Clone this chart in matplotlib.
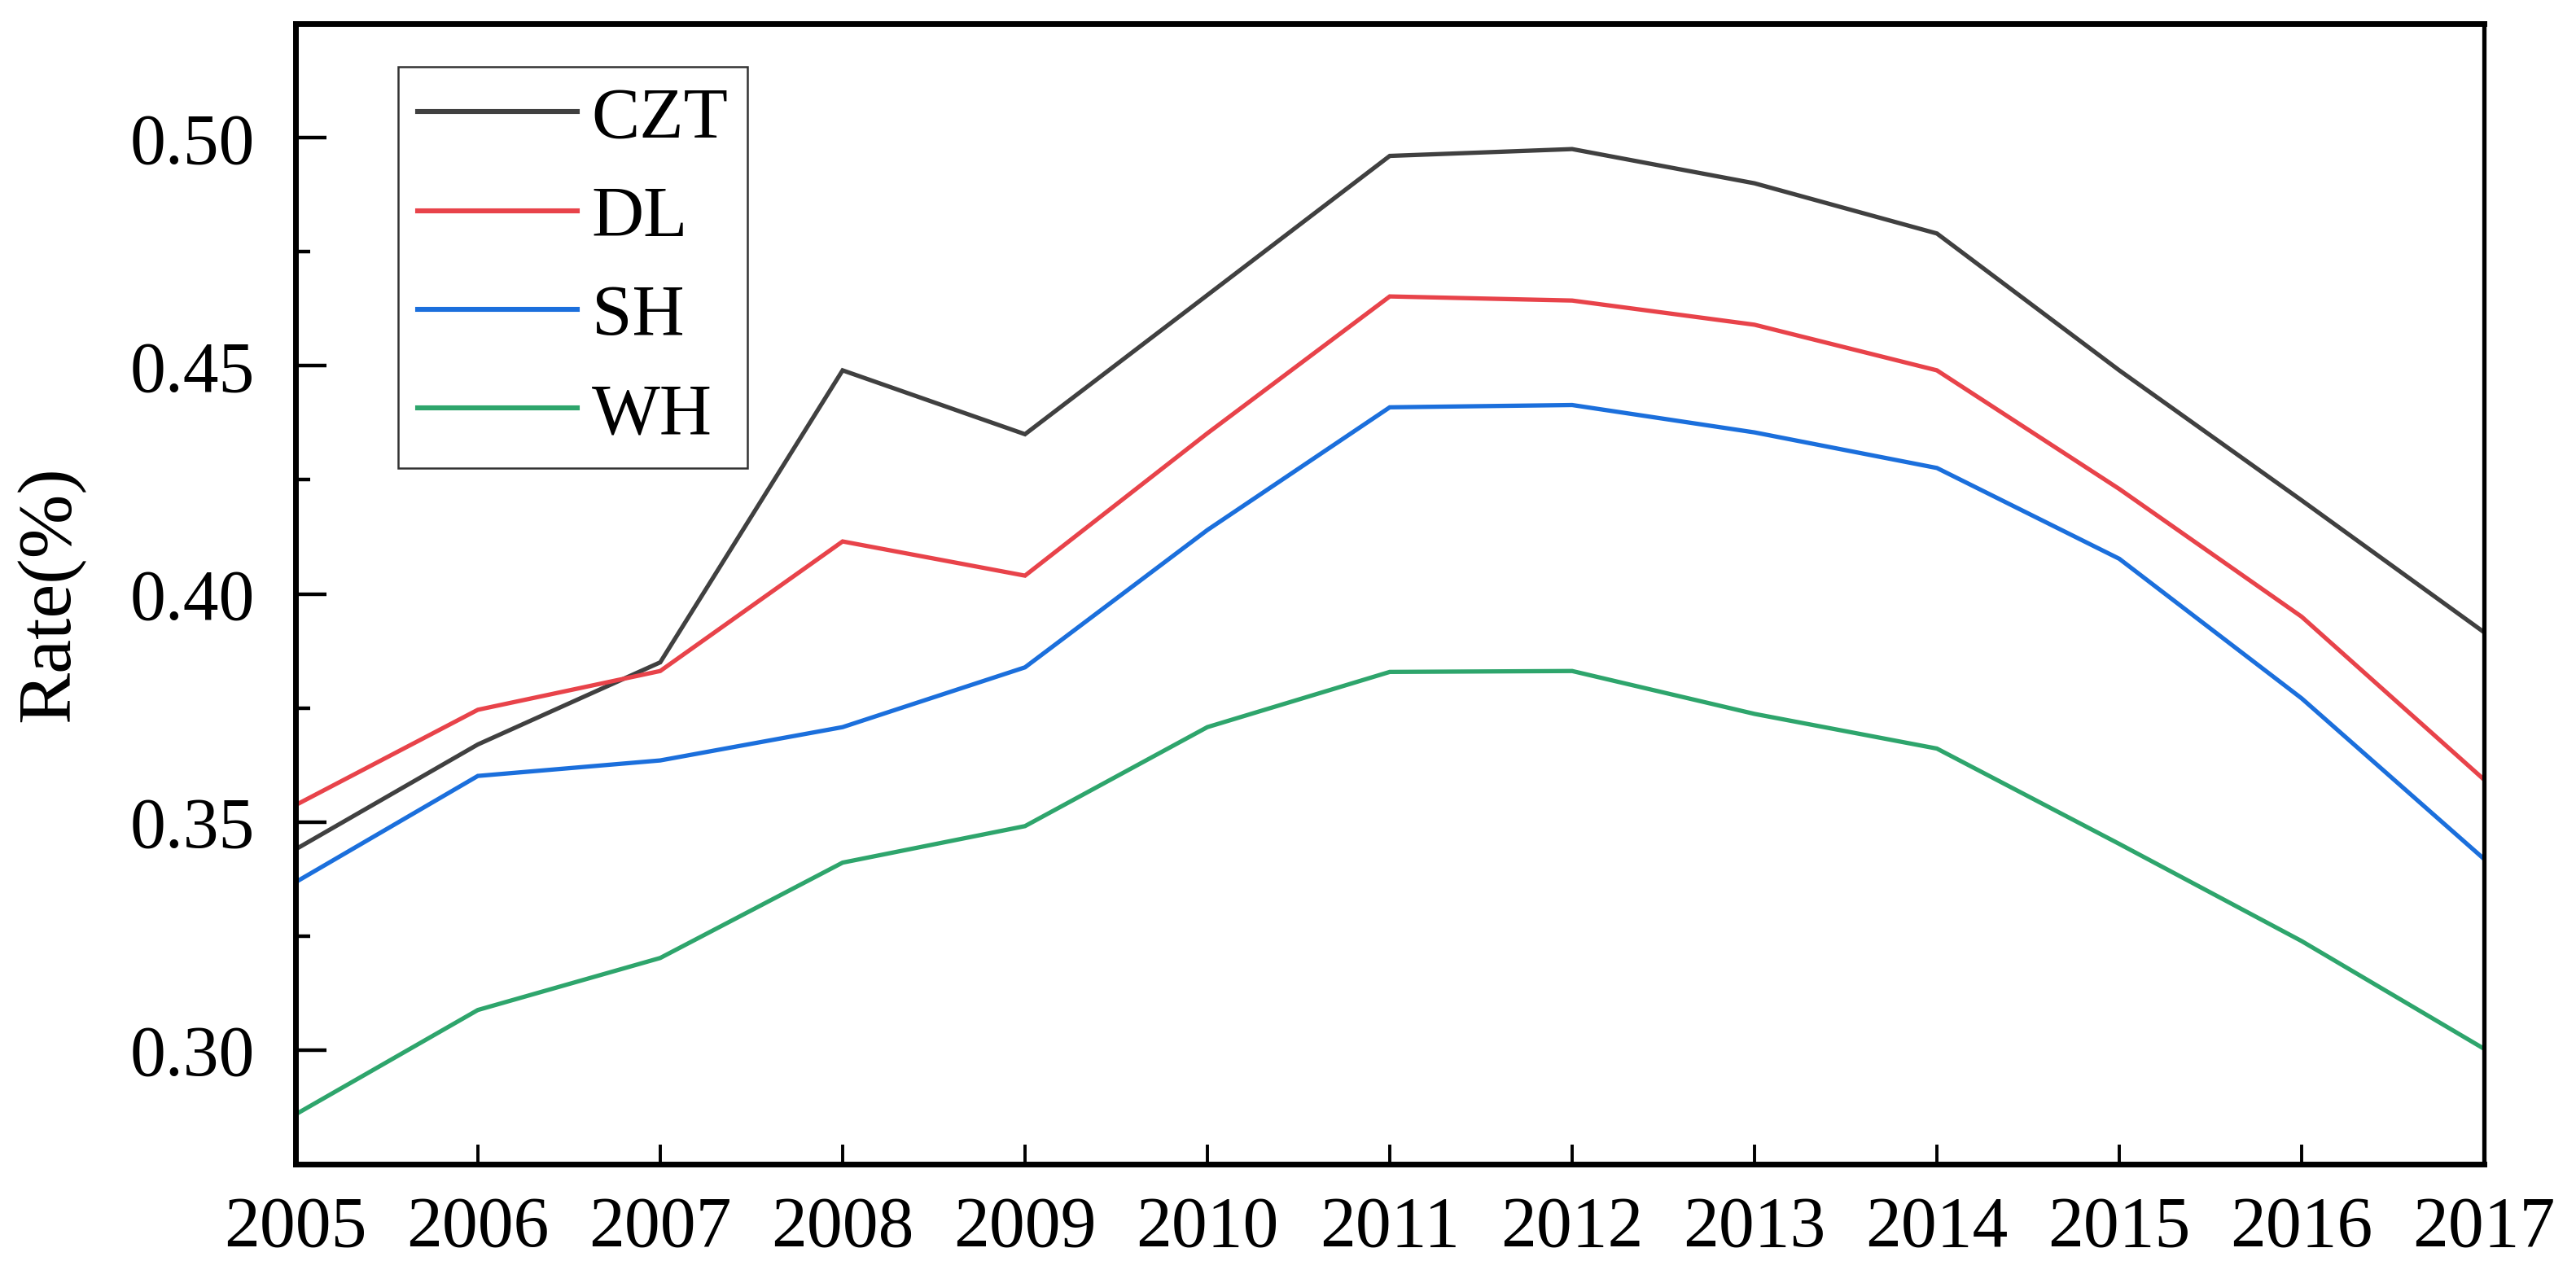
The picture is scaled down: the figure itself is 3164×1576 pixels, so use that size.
import matplotlib
matplotlib.use('Agg')
import matplotlib.pyplot as plt
from matplotlib.ticker import MultipleLocator

plt.rcParams['font.family'] = ['Liberation Serif', 'DejaVu Serif']

# Data
years = [2005, 2006, 2007, 2008, 2009, 2010, 2011, 2012, 2013, 2014, 2015, 2016, 2017]
czt = [0.344, 0.367, 0.385, 0.449, 0.435, 0.4655, 0.496, 0.4975, 0.490, 0.479, 0.449, 0.4205, 0.3916]
dl = [0.3537, 0.3746, 0.3831, 0.4115, 0.404, 0.4352, 0.4652, 0.4643, 0.459, 0.449, 0.423, 0.395, 0.3593]
sh = [0.3368, 0.3601, 0.3635, 0.3708, 0.3839, 0.414, 0.4409, 0.4414, 0.4354, 0.4276, 0.4077, 0.3771, 0.3419]
wh = [0.2859, 0.3088, 0.3202, 0.3411, 0.3491, 0.3708, 0.3829, 0.3831, 0.3737, 0.3661, 0.3452, 0.3239, 0.3003]

series = [('CZT', czt, '#404040'),
          ('DL', dl, '#e8434a'),
          ('SH', sh, '#1b6fdc'),
          ('WH', wh, '#2ea56c')]

DPI = 200
fig = plt.figure(figsize=(3164 / DPI, 1576 / DPI), dpi=DPI, facecolor='white')
ax = fig.add_axes([0.1147, 0.0926, 0.8496, 0.889])

for name, vals, col in series:
    ax.plot(years, vals, color=col, linewidth=1.9, label=name, solid_joinstyle='miter')

ax.set_xlim(2005, 2017)
ax.set_ylim(0.275, 0.525)
ax.set_xticks(years)
ax.set_xticklabels([str(y) for y in years])
ax.yaxis.set_major_locator(MultipleLocator(0.05))
ax.yaxis.set_minor_locator(MultipleLocator(0.025))
ax.yaxis.set_major_formatter(matplotlib.ticker.FormatStrFormatter('%.2f'))

for side in ['left', 'bottom', 'top']:
    ax.spines[side].set_linewidth(2.5)
ax.spines['right'].set_linewidth(1.9)

ax.tick_params(axis='y', which='major', direction='in', length=13.5, width=1.6,
               labelsize=31.5, pad=18, right=False)
ax.tick_params(axis='y', which='minor', direction='in', length=6.5, width=1.6, right=False)
ax.tick_params(axis='x', which='major', direction='in', length=8.6, width=1.4,
               labelsize=31.5, pad=14, top=False)

ax.set_ylabel('Rate(%)', fontsize=34)
ax.yaxis.set_label_coords(-0.096, 0.5)

leg = ax.legend(loc='upper left', bbox_to_anchor=(0.047, 0.962), borderaxespad=0,
                fontsize=32, frameon=True, fancybox=False, framealpha=1,
                edgecolor='#333333', handlelength=2.2, handletextpad=0.2,
                labelspacing=0.45, borderpad=0.27)
leg.get_frame().set_linewidth(0.9)
for line in leg.get_lines():
    line.set_linewidth(2.2)

fig.savefig('out.png', dpi=DPI, facecolor='white')
